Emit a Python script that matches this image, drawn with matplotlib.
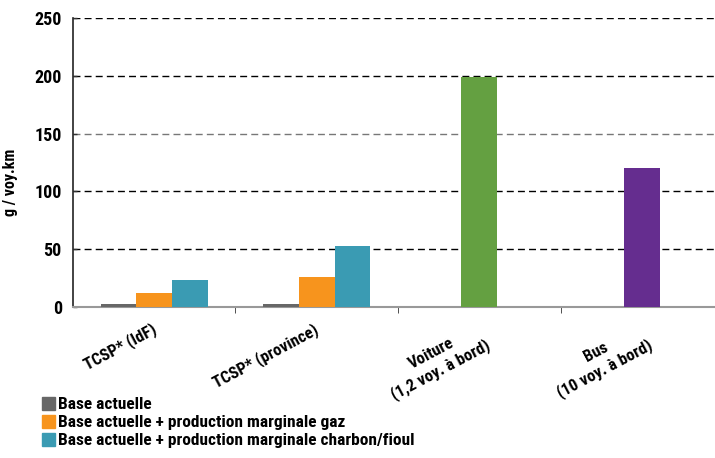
import numpy as np
import matplotlib.pyplot as plt
import matplotlib.transforms as mtransforms
from matplotlib.patches import Patch

plt.rcParams['font.family'] = ['Roboto Condensed', 'DejaVu Sans']
plt.rcParams['font.weight'] = 'bold'
plt.rcParams['axes.labelweight'] = 'bold'

categories = ['TCSP* (IdF)', 'TCSP* (province)', 'Voiture\n(1,2 voy. à bord)', 'Bus\n(10 voy. à bord)']
base = [3, 3]
gaz = [12, 26]
charbon = [23.5, 53]
voiture = 199
bus = 120
series_names = ['Base actuelle',
                'Base actuelle + production marginale gaz',
                'Base actuelle + production marginale charbon/fioul']
colors = ['#676767', '#f7941d', '#3a9bb3']
voiture_color = '#64a041'
bus_color = '#652d8f'

fig = plt.figure(figsize=(7.15, 4.58), dpi=100)
ax = fig.add_axes([0.102, 0.3297, 0.898, 0.631])

w = 0.22
x = np.arange(2)
ax.bar(x - w, base, w, color=colors[0], zorder=3)
ax.bar(x, gaz, w, color=colors[1], zorder=3)
ax.bar(x + w, charbon, w, color=colors[2], zorder=3)
ax.bar([2], [voiture], w, color=voiture_color, zorder=3)
ax.bar([3], [bus], w, color=bus_color, zorder=3)

ax.set_xlim(-0.5, 3.45)
ax.set_ylim(0, 250)
ax.set_yticks(range(0, 251, 50))
ax.tick_params(axis='y', length=3, direction='in', width=1, color='#333333',
               labelsize=13, pad=8)
for y in range(50, 251, 50):
    ax.axhline(y, color='#777777' if y == 150 else 'black', lw=1, ls=(0, (5, 3)), zorder=1)

ax.set_xticks(range(4))
ax.set_xticklabels(categories, rotation=28, ha='right', va='top',
                   rotation_mode='anchor', multialignment='center', fontsize=12)
ax.tick_params(axis='x', which='major', length=0, pad=10)
shift = mtransforms.ScaledTranslation(-3 / 100, 0, fig.dpi_scale_trans)
for lab in ax.get_xticklabels():
    lab.set_transform(lab.get_transform() + shift)
ax.set_xticks([0.5, 1.5, 2.5], minor=True)
ax.tick_params(axis='x', which='minor', length=4, color='#333333', direction='out')

for s in ['top', 'right']:
    ax.spines[s].set_visible(False)
ax.spines['left'].set_color('#222222')
ax.spines['left'].set_linewidth(1.2)
ax.spines['bottom'].set_color('#999999')
ax.spines['bottom'].set_linewidth(1.5)

ax.set_ylabel('g / voy.km', fontsize=11.5)
ax.yaxis.set_label_coords(-0.0857, 0.43)

handles = [Patch(color=c) for c in colors]
fig.legend(handles, series_names, loc='upper left', bbox_to_anchor=(42 / 715, 1 - 397 / 458),
           frameon=False, fontsize=12.5, handlelength=0.75, handleheight=0.75,
           handletextpad=0.2, labelspacing=0.15, borderpad=0, borderaxespad=0)

fig.savefig('out.png', dpi=100)
